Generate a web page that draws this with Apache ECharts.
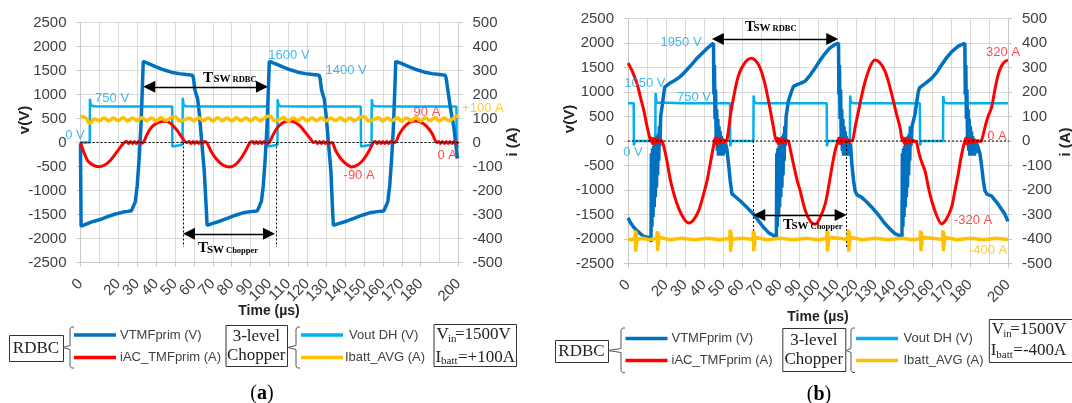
<!DOCTYPE html>
<html><head><meta charset="utf-8">
<script src="https://cdn.jsdelivr.net/npm/echarts@6/dist/echarts.min.js"></script>
<style>html,body{margin:0;padding:0;background:#fff}#c{width:1072px;height:403px}</style>
</head><body><div id="c"></div>
<script>
// ---------- axes / ticks ----------
const tTicks = [0,10,20,30,40,50,60,70,80,90,100,110,120,130,140,150,160,170,180,190,200];
const vTicks = [-2500,-2000,-1500,-1000,-500,0,500,1000,1500,2000,2500];
const iTicks = [-500,-400,-300,-200,-100,0,100,200,300,400,500];

// ---------- panel (a) : Ibatt = +100 A ----------
const aVtmf = [[0,-30],[0.3,-1745],[3,-1700],[6,-1655],[10,-1610],[14,-1550],[18,-1495],[22,-1455],[25,-1435],[27,-1420],[27.6,-1360],[28.4,-1290],[29,-1230],[30,-900],[31,-350],[32,350],[32.7,1100],[33.2,1690],[36,1645],[40,1575],[44,1515],[48,1465],[52,1435],[56,1415],[59.3,1400],[59.8,1330],[60.5,1100],[62,900],[63,550],[64.5,-150],[65.5,-600],[66.5,-1350],[67,-1725],[70,-1685],[74,-1635],[78,-1575],[82,-1515],[86,-1465],[90,-1440],[93.5,-1425],[94.3,-1360],[95,-1290],[95.7,-1230],[96.7,-900],[97.7,-350],[98.7,350],[99.4,1100],[99.9,1690],[103,1645],[107,1575],[111,1515],[115,1465],[119,1435],[123,1415],[126.3,1400],[126.8,1330],[127.5,1100],[129,900],[130,550],[131.5,-150],[132.5,-600],[133.3,-1350],[133.8,-1725],[137,-1685],[141,-1635],[145,-1575],[149,-1515],[153,-1465],[157,-1440],[160.5,-1425],[161.2,-1360],[162,-1290],[162.6,-1230],[163.6,-900],[164.6,-350],[165.6,350],[166.3,1100],[166.8,1690],[170,1645],[174,1575],[178,1515],[182,1465],[186,1435],[190,1415],[193,1400],[193.5,1330],[194.5,1050],[195.8,700],[197.5,330],[199.3,-290],[199.7,-330]];
const aIac = [[0,0],[2,-45],[4,-78],[7,-95],[10,-101],[13,-93],[16,-73],[19,-42],[22,-10],[23.2,0],[24.5,4],[25.5,-4],[26.5,4],[27.5,-4],[28.5,4],[29.5,-4],[30.5,4],[31.5,-3],[33.2,0],[35,30],[37,58],[40,79],[43,87],[45.6,88],[48,78],[51,52],[54,18],[56.2,0],[57.5,4],[58.5,-4],[59.5,4],[60.5,-4],[61.5,4],[62.5,-4],[63.5,4],[64.5,-4],[65.5,4],[66.8,0],[69,-35],[72,-70],[75,-92],[79,-102],[82,-92],[85,-65],[87.5,-32],[89.7,0],[91,4],[92,-4],[93,4],[94,-4],[95,4],[96,-4],[97,4],[98,-3],[99.8,0],[102,33],[104,60],[107,82],[110,90],[113,86],[116,70],[119,42],[122,12],[123.2,0],[124.5,4],[125.5,-4],[126.5,4],[127.5,-4],[128.5,4],[129.5,-4],[130.5,4],[131.5,-3],[133,0],[135,-33],[138,-70],[141,-92],[143.5,-102],[147,-92],[150,-68],[153,-30],[154.9,0],[156,4],[157,-4],[158,4],[159,-4],[160,4],[161,-4],[162,4],[163,-4],[164,4],[166.4,0],[168.5,32],[171,62],[174,83],[177,90],[180,85],[183,68],[186,38],[188.5,0],[189.5,4],[190.5,-4],[191.5,4],[192.5,-4],[193.5,4],[194.5,-4],[195.5,4],[196.5,-4],[197.5,4],[198.5,-4],[200,0]];
const aVout = [[0,0],[4.9,0],[5,910],[5.5,770],[7,755],[20,752],[35,750],[48.5,748],[48.6,-85],[49.2,-45],[54,-45],[54.1,930],[54.6,770],[56,755],[70,752],[85,750],[99.3,748],[99.4,-85],[100,-45],[104.2,-45],[104.3,900],[104.8,770],[106,755],[120,752],[135,750],[148.3,748],[148.4,-85],[149,-45],[154,-45],[154.1,900],[154.6,770],[156,755],[170,752],[185,750],[198.9,748],[199,-85],[199.6,-60],[200,-60]];
const aIbatt = [[0,108],[2.5,104],[5,80],[7.5,98],[10,90],[12.5,102],[15,90],[17.5,102],[20,91],[22.5,103],[25,90],[27.5,102],[30,91],[32.5,103],[35,91],[37.5,102],[40,90],[42.5,103],[45,91],[47.5,102],[50,107],[52.5,90],[55,95],[57.5,102],[60,90],[62.5,103],[65,91],[67.5,102],[70,90],[72.5,103],[75,91],[77.5,102],[80,90],[82.5,103],[85,91],[87.5,102],[90,90],[92.5,103],[95,91],[97.5,103],[100,110],[102.5,91],[105,95],[107.5,103],[110,90],[112.5,102],[115,91],[117.5,103],[120,90],[122.5,102],[125,91],[127.5,103],[130,90],[132.5,102],[135,91],[137.5,103],[140,90],[142.5,102],[145,91],[147.5,103],[150,108],[152.5,90],[155,95],[157.5,103],[160,90],[162.5,102],[165,91],[167.5,103],[170,90],[172.5,102],[175,91],[177.5,103],[180,90],[182.5,102],[185,91],[187.5,103],[190,90],[192.5,102],[195,91],[197.5,102],[200,114]];

// ---------- panel (b) : Ibatt = -400 A ----------
const bVtmf = [[0,-1570],[1.5,-1680],[3,-1760],[5,-1840],[6.5,-1890],[8.5,-1950],[11.8,-1980],[12.1,-2060],[12.3,-250],[12.6,-1750],[12.9,-150],[13.2,-1550],[13.5,-100],[13.8,-1350],[14.1,-50],[14.4,-1150],[14.7,0],[15,-950],[15.3,100],[15.6,-700],[15.9,150],[16.2,-400],[16.5,300],[16.8,-100],[17.2,500],[18,720],[18.9,980],[19.3,1100],[20.3,1130],[22.4,1190],[24.5,1235],[26.7,1290],[29,1370],[31.1,1460],[33.7,1570],[36.4,1690],[39,1790],[41.6,1890],[43.5,1950],[45,1995],[45.2,950],[45.5,1550],[45.8,450],[46.1,1050],[46.4,50],[46.7,650],[47,-200],[47.3,450],[47.6,-300],[47.9,300],[48.2,-250],[48.5,200],[48.8,-300],[49.1,100],[49.4,-250],[49.7,50],[50,-300],[50.4,0],[50.8,-250],[51.3,-50],[52,-150],[53,-500],[53.8,-810],[54.7,-1080],[55.6,-1120],[59,-1220],[62,-1330],[66,-1490],[68.5,-1620],[71.3,-1760],[74,-1870],[76.6,-1930],[78.1,-1960],[78.3,-250],[78.6,-1750],[78.9,-150],[79.2,-1550],[79.5,-100],[79.8,-1350],[80.1,-50],[80.4,-1150],[80.7,0],[81,-950],[81.3,100],[81.6,-700],[81.9,150],[82.2,-400],[82.5,300],[82.8,-100],[83.2,500],[84.4,810],[85.8,980],[87.1,1115],[89,1150],[91,1180],[93.3,1220],[96,1350],[98.5,1490],[101,1640],[103.8,1790],[106,1890],[108.5,1960],[110.8,2000],[111,950],[111.3,1550],[111.6,450],[111.9,1050],[112.2,50],[112.5,650],[112.8,-200],[113.1,450],[113.4,-300],[113.7,300],[114,-250],[114.3,200],[114.6,-300],[114.9,100],[115.2,-250],[115.5,50],[115.8,-300],[116.2,0],[116.6,-250],[117.1,-50],[117.8,-470],[118.7,-800],[119.5,-1010],[120.5,-1100],[123,-1150],[125.5,-1240],[128.3,-1350],[132,-1520],[135.3,-1690],[138,-1800],[140.5,-1890],[143,-1930],[144.2,-1950],[144.4,-250],[144.7,-1750],[145,-150],[145.3,-1550],[145.6,-100],[145.9,-1350],[146.2,-50],[146.5,-1150],[146.8,0],[147.1,-950],[147.4,100],[147.7,-700],[148,150],[148.3,-400],[148.6,300],[148.9,-100],[149.5,300],[151,540],[152.8,1010],[153.5,1090],[154.5,1115],[157,1190],[159.8,1280],[162.5,1400],[165,1550],[167.5,1690],[170.3,1820],[174,1940],[177.3,1995],[177.5,950],[177.8,1550],[178.1,450],[178.4,1050],[178.7,50],[179,650],[179.3,-200],[179.6,450],[179.9,-300],[180.2,300],[180.5,-250],[180.8,200],[181.1,-300],[181.4,100],[181.7,-250],[182,50],[182.3,-300],[182.7,0],[183.1,-250],[183.6,-50],[184.3,-80],[185.2,-250],[186,-470],[187,-800],[187.8,-1010],[189,-1090],[191.3,-1120],[195,-1300],[198.3,-1490],[200,-1640]];
const bIac = [[0,318],[2.5,280],[4.9,230],[6.5,180],[8.4,122],[10,60],[11,27],[11.9,0],[12.4,12],[12.9,-11],[13.4,10],[13.9,-9],[14.4,8],[14.9,-7],[15.4,6],[15.9,-5],[16.4,4],[16.9,-3],[17.4,2],[18,0],[19.8,-54],[22.4,-162],[24.5,-225],[26.7,-275],[29.5,-318],[32,-335],[34.5,-322],[37.2,-284],[39.5,-225],[41.6,-162],[43,-105],[44.2,-54],[45.5,0],[46,12],[46.5,-11],[47,10],[47.5,-9],[48,8],[48.5,-7],[49,6],[49.5,-5],[50,4],[50.5,-3],[51,3],[51.5,-2],[52,0],[53,50],[54,110],[55.5,175],[57.3,243],[59,285],[60.8,311],[63,332],[65.2,338],[67.5,325],[69.6,297],[72,235],[74,162],[75.5,100],[76.6,54],[78,0],[78.5,12],[79,-11],[79.5,10],[80,-9],[80.5,8],[81,-7],[81.5,6],[82,-5],[82.5,4],[83,-3],[83.5,2],[84.4,0],[86,-55],[87.1,-95],[89,-160],[90.6,-203],[93.3,-284],[96,-328],[98.5,-340],[101,-315],[103.8,-257],[105.5,-190],[107.3,-108],[109,-40],[110.5,0],[111,12],[111.5,-11],[112,10],[112.5,-9],[113,8],[113.5,-7],[114,6],[114.5,-5],[115,4],[115.5,-4],[116,3],[116.7,-2],[117.3,2],[118,0],[119.5,55],[121.3,122],[123,185],[124.8,243],[127.5,305],[130,331],[132.5,320],[135.3,284],[137.5,230],[139.7,162],[141.5,105],[143.2,54],[144.5,0],[145,12],[145.5,-11],[146,10],[146.5,-9],[147,8],[147.5,-7],[148,6],[148.5,-5],[149,4],[149.5,-3],[150,3],[150.7,-2],[151.5,0],[153,-45],[154.5,-85],[156.3,-122],[158,-185],[159.8,-243],[162.5,-305],[165,-338],[167.5,-320],[170.3,-270],[172,-205],[173.8,-135],[175.2,-70],[176.4,-27],[177.3,0],[177.8,12],[178.3,-11],[178.8,10],[179.3,-9],[179.8,8],[180.3,-7],[180.8,6],[181.3,-5],[181.8,4],[182.3,-4],[182.8,3],[183.5,-3],[184.3,2],[185.2,-2],[186,0],[188,60],[189.5,100],[191.3,135],[193,205],[194.8,270],[196.5,305],[198.3,324],[200,330]];
const bVout = [[0,770],[3,770],[3.1,-90],[3.6,0],[14.4,0],[14.5,980],[15,785],[16,770],[30,770],[45,770],[53.7,770],[53.8,-110],[54.3,0],[66,0],[66.1,930],[66.6,785],[68,770],[80,770],[95,770],[104.6,770],[104.7,-110],[105.2,0],[116.8,0],[116.9,930],[117.4,785],[119,770],[135,770],[153.6,770],[153.7,-90],[154.2,0],[165.8,0],[165.9,920],[166.4,785],[168,770],[185,770],[200,770]];
const bIbatt = [[0,-400],[2,-403],[3.7,-398],[3.9,-365],[4.1,-452],[4.3,-372],[4.5,-430],[4.7,-392],[5,-401],[8,-397],[11,-403],[15.2,-398],[15.4,-368],[15.6,-448],[15.8,-370],[16,-428],[16.2,-393],[16.5,-400],[22,-403],[28,-397],[35,-403],[42,-397],[48,-403],[53.6,-398],[53.8,-362],[54,-452],[54.2,-372],[54.4,-432],[54.6,-392],[54.9,-401],[60,-397],[65.8,-402],[66,-365],[66.2,-450],[66.4,-372],[66.6,-430],[66.8,-393],[67.1,-400],[73,-403],[80,-397],[87,-403],[94,-397],[100,-403],[104.6,-398],[104.8,-365],[105,-450],[105.2,-372],[105.4,-430],[105.6,-393],[105.9,-400],[111,-397],[115.8,-402],[116,-362],[116.2,-452],[116.4,-370],[116.6,-432],[116.8,-392],[117.1,-400],[123,-403],[130,-397],[137,-403],[144,-397],[150,-403],[153.8,-398],[154,-365],[154.2,-450],[154.4,-372],[154.6,-430],[154.8,-393],[155.1,-400],[160,-397],[165.6,-402],[165.8,-365],[166,-450],[166.2,-372],[166.4,-430],[166.6,-393],[166.9,-400],[173,-403],[180,-397],[187,-403],[194,-397],[200,-402]];

// ---------- annotation texts (text, time, volts, kind) ----------
const aNotes = [['750 V',16.7,927,'v'],['0 V',-2.9,156,'v'],['1600 V',110.3,1823,'v'],['1400 V',140.5,1510,'v'],['90 A',183.3,635,'i'],['+100 A',212.9,719,'b'],['-90 A',147.4,-677,'i'],['0 A',194,-260,'i']];
const bNotes = [['1950 V',27.9,2020,'v'],['1050 V',8.9,1183,'v'],['750 V',34.7,898,'v'],['0 V',2.6,-224,'v'],['320 A',197.4,1816,'i'],['0 A',194.2,102,'i'],['-320 A',181.6,-1612,'i'],['-400 A',189.5,-2224,'b']];
// switching-period arrows [t1, t2, volts] and dashed markers [t]
const aArrows = [[36.4,96.0,1160],[57.4,99.7,-1902]];
const aMarks = [54.4,103.5];
const bArrows = [[47.3,107.5,2081],[69.1,111.9,-1510]];
const bMarks = [66.0,115.1];

const SANS = "'Liberation Sans', Arial, sans-serif";
const SERIF = "'Liberation Serif', 'Times New Roman', serif";
const C_VT = '#0070C0', C_IAC = '#FF0000', C_VOUT = '#00B0F0', C_IB = '#FFC000';
const TXT = '#404040', GRID = '#d9d9d9';
const noteColor = {v:'#12A8E8', i:'#FF2020', b:'#FFC000'};

function xAx(g){
  return {type:'value', gridIndex:g, min:tTicks[0], max:tTicks[tTicks.length-1], interval:tTicks[1]-tTicks[0],
    axisLine:{show:true, onZero:false, lineStyle:{color:'#c8c8c8'}},
    axisTick:{show:true, length:4, lineStyle:{color:'#c8c8c8'}},
    splitLine:{show:true, lineStyle:{color:GRID, width:1}},
    axisLabel:{rotate:45, margin:19, fontSize:15, color:TXT, fontFamily:SANS, showMinLabel:true, showMaxLabel:true, hideOverlap:false,
      formatter:v=>String(v)}};
}
function yAx(g, ticks, pos, split){
  return {type:'value', gridIndex:g, position:pos, min:ticks[0], max:ticks[ticks.length-1], interval:ticks[1]-ticks[0],
    axisLine:{show:true, onZero:false, lineStyle:{color:'#c8c8c8'}},
    axisTick:{show:true, length:4, lineStyle:{color:'#c8c8c8'}},
    splitLine:{show:split, lineStyle:{color:GRID, width:1}},
    axisLabel:{margin:14, fontSize:15, color:TXT, fontFamily:SANS, showMinLabel:true, showMaxLabel:true, formatter:v=>String(v)}};
}
function ln(data, xi, yi, color, width, z, smooth){
  return {type:'line', data, xAxisIndex:xi, yAxisIndex:yi, symbol:'none', showSymbol:false, smooth:smooth||false,
    lineStyle:{color, width}, itemStyle:{color}, z, animation:false, silent:true};
}
function helpers(xi, yi, marks, arrows, notes){
  return [
    {type:'line', xAxisIndex:xi, yAxisIndex:yi, data:[[0,0],[207,0]], clip:false, symbol:'none', silent:true, animation:false,
     lineStyle:{color:'#000', width:1, type:[2,2]}, z:6,
     markLine:{silent:true, animation:false, symbol:['none','none'], label:{show:false},
       lineStyle:{color:'#000', width:1, type:[2,2]},
       data: marks.map(t=>[{coord:[t,0]},{coord:[t,-2180]}])}},
    {type:'line', xAxisIndex:xi, yAxisIndex:yi, data:[], symbol:'none', silent:true, animation:false, z:7,
     markLine:{silent:true, animation:false, symbol:['triangle','triangle'], symbolSize:12, label:{show:false},
       lineStyle:{color:'#000', width:1.3, type:'solid'},
       data: arrows.map(a=>[{coord:[a[0],a[2]]},{coord:[a[1],a[2]]}])}},
    {type:'scatter', xAxisIndex:xi, yAxisIndex:yi, symbol:'circle', symbolSize:1, clip:false, silent:true, animation:false, z:30,
     itemStyle:{color:'rgba(0,0,0,0)'},
     data: notes.map(n=>({value:[n[1],n[2]], label:{show:true, position:'inside', formatter:n[0], color:noteColor[n[3]], fontSize:13, fontFamily:SANS}}))}
  ];
}

// ---------- graphic (annotation text & legend) ----------
const G = [];
function txt(x, y, text, size, opts){
  opts = opts||{};
  G.push({type:'text', x, y, rotation:opts.rot||0, silent:true, z:50,
    style:{text, fontSize:size, fontFamily:opts.font||SANS, fontWeight:opts.bold?'bold':'normal',
      fill:opts.color||TXT, align:opts.align||'left', verticalAlign:'middle', textAlign:opts.align||'left', textVerticalAlign:'middle'}});
}
function base(x, baseline, text, size, opts){ txt(x, baseline - 0.33*size, text, size, opts); }
function line(pts, color, w){ G.push({type:'polyline', silent:true, z:50, shape:{points:pts}, style:{stroke:color, lineWidth:w, fill:null}}); }
function box(x, y, w, h){ G.push({type:'rect', silent:true, z:49, shape:{x:x+0.5, y:y+0.5, width:w, height:h}, style:{fill:'#fff', stroke:'#333', lineWidth:1}}); }
function brace(xv, x0, x1, y0, y1, ym){
  line([[x1,y0],[xv+1.5,y0],[xv,y0+2],[xv,ym-2],[x0,ym],[xv,ym+2],[xv,y1-2],[xv+1.5,y1],[x1,y1]], '#555', 1);
}
function tsw(x, bl, sub, wT){
  base(x, bl, 'T', 15, {font:SERIF, bold:true, color:'#000'});
  base(x+wT, bl, 'SW', 11, {font:SERIF, bold:true, color:'#000'});
  base(x+wT+19, bl, sub, 8.5, {font:SERIF, bold:true, color:'#000'});
}
// axis titles
txt(25, 120, 'v(V)', 15, {bold:true, rot:Math.PI/2, align:'center', color:'#222'});
txt(513, 142, 'i (A)', 15, {bold:true, rot:Math.PI/2, align:'center', color:'#222'});
txt(269, 311, 'Time (µs)', 14, {bold:true, align:'center', color:'#222'});
txt(570, 119, 'v(V)', 15, {bold:true, rot:Math.PI/2, align:'center', color:'#222'});
txt(1066, 142, 'i (A)', 15, {bold:true, rot:Math.PI/2, align:'center', color:'#222'});
txt(818, 317, 'Time (µs)', 14, {bold:true, align:'center', color:'#222'});
// T_SW labels
tsw(203, 83, 'RDBC', 10.5);
tsw(198, 253.5, 'Chopper', 9);
tsw(745, 32, 'RDBC', 8.5);
tsw(783, 230, 'Chopper', 8.5);

function legend(L){
  box(L.rx, L.ry, L.rw, L.rh); txt(L.rx+L.rw/2, L.ry+L.rh/2+0.5, 'RDBC', 17, {font:SERIF, align:'center', color:'#222'});
  brace(L.b1, L.rx+L.rw, L.b1+4, L.by0, L.by1, L.bm);
  line([[L.l1,L.y1],[L.l1+42,L.y1]], C_VT, 3.5); txt(L.t1, L.y1, 'VTMFprim (V)', 13);
  line([[L.l1,L.y2],[L.l1+42,L.y2]], C_IAC, 3.5); txt(L.t1, L.y2, 'iAC_TMFprim (A)', 13);
  box(L.cx, L.cy, L.cw, L.ch);
  txt(L.cx+L.cw/2, L.cy+L.ch*0.29, '3-level', 17, {font:SERIF, align:'center', color:'#222'});
  txt(L.cx+L.cw/2, L.cy+L.ch*0.74, 'Chopper', 17, {font:SERIF, align:'center', color:'#222'});
  brace(L.b2, L.cx+L.cw+1, L.b2+4, L.by0, L.by1, L.bm);
  line([[L.l2,L.y1],[L.l2+42,L.y1]], C_VOUT, 3.5); txt(L.t2, L.y1, 'Vout DH (V)', 13);
  line([[L.l2,L.y2],[L.l2+42,L.y2]], C_IB, 3.5); txt(L.t2b, L.y2, 'Ibatt_AVG (A)', 13);
  box(L.vx, L.vy, L.vw, L.vh);
  txt(L.vx+3, L.v1, 'V', 17, {font:SERIF, color:'#222'});
  txt(L.vx+14.5, L.v1+4, 'in', 11, {font:SERIF, color:'#222'});
  txt(L.vx+21.5, L.v1, '=1500V', 17, {font:SERIF, color:'#222'});
  txt(L.vx+2, L.v2, 'I', 17, {font:SERIF, color:'#222'});
  txt(L.vx+7.5, L.v2+4, 'batt', 11, {font:SERIF, color:'#222'});
  txt(L.vx+24.5, L.v2, L.ib, 17, {font:SERIF, color:'#222'});
}
legend({rx:9, ry:335, rw:54, rh:26, b1:70, by0:327, by1:368, bm:347.5, l1:74, t1:120, y1:335, y2:357.5,
  cx:225.5, cy:325, cw:61.5, ch:41, b2:296, l2:301, t2:349, t2b:345, vx:433.5, vy:324, vw:82.5, vh:42, v1:335, v2:357.5, ib:'=+100A'});
legend({rx:555, ry:340, rw:53, rh:22, b1:621, by0:328, by1:372.5, bm:350.5, l1:625.5, t1:671.5, y1:338.5, y2:360.6,
  cx:782.3, cy:328, cw:63, ch:43, b2:851, l2:856, t2:903.5, t2b:903.5, vx:988.8, vy:319, vw:95, vh:43, v1:330, v2:351, ib:'=-400A'});
G.push({type:'text', x:262, y:394, silent:true, style:{text:'{p|(}{b|a}{p|)}', align:'center', verticalAlign:'middle', textAlign:'center', textVerticalAlign:'middle',
  rich:{p:{fontFamily:SERIF, fontSize:20, fill:'#000', color:'#000'}, b:{fontFamily:SERIF, fontSize:20, fontWeight:'bold', fill:'#000', color:'#000'}}}});
G.push({type:'text', x:819, y:395, silent:true, style:{text:'{p|(}{b|b}{p|)}', align:'center', verticalAlign:'middle', textAlign:'center', textVerticalAlign:'middle',
  rich:{p:{fontFamily:SERIF, fontSize:20, fill:'#000', color:'#000'}, b:{fontFamily:SERIF, fontSize:20, fontWeight:'bold', fill:'#000', color:'#000'}}}});

const chart = echarts.init(document.getElementById('c'), null, {renderer:'canvas'});
chart.setOption({
  backgroundColor:'#fff', animation:false,
  grid:[{left:80.5, top:22.5, width:378, height:240, outerBoundsMode:'none', containLabel:false},
        {left:628, top:18.5, width:380, height:245, outerBoundsMode:'none', containLabel:false}],
  xAxis:[xAx(0), xAx(1)],
  yAxis:[yAx(0, vTicks, 'left', true), yAx(0, iTicks, 'right', false), yAx(1, vTicks, 'left', true), yAx(1, iTicks, 'right', false)],
  series:[
    ln(aVout, 0, 0, C_VOUT, 2.5, 2), ln(aVtmf, 0, 0, C_VT, 3.5, 3), ln(aIac, 0, 1, C_IAC, 3, 4, 0.3), ln(aIbatt, 0, 1, C_IB, 3.5, 5, 0.5),
    ...helpers(0, 0, aMarks, aArrows, aNotes),
    ln(bVout, 1, 2, C_VOUT, 2.5, 2), ln(bVtmf, 1, 2, C_VT, 3.5, 3), ln(bIac, 1, 3, C_IAC, 3, 4, 0.3), ln(bIbatt, 1, 3, C_IB, 3.5, 5),
    ...helpers(1, 2, bMarks, bArrows, bNotes)
  ],
  graphic: G
});
</script></body></html>
